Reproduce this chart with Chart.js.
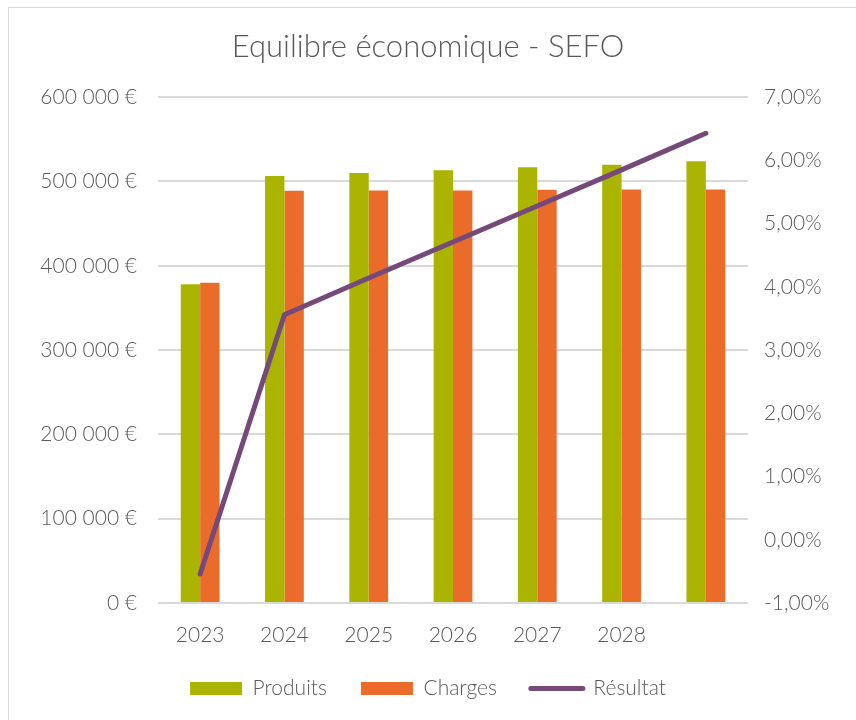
<!DOCTYPE html>
<html>
<head>
<meta charset="utf-8">
<script src="https://cdn.jsdelivr.net/npm/chart.js@4/dist/chart.umd.min.js"></script>
<style>
  body { margin: 0; background: #fff; overflow: hidden; }
  #frame { position: absolute; left: 8px; top: 7px; width: 900px; height: 760px; border: 1px solid #d9d9d9; }
  #wrap { position: absolute; left: 0; top: 0; width: 856px; height: 720px; overflow: hidden; }
</style>
</head>
<body>
<div id="frame"></div>
<div id="wrap"><canvas id="chart" width="856" height="709"></canvas></div>
<script>
// Data
const years = ['2023', '2024', '2025', '2026', '2027', '2028', ''];
const produits = [378000, 506500, 510000, 513300, 517000, 520000, 524000];
const charges = [380000, 489000, 489400, 489400, 490200, 490600, 490600];
const resultat = [-0.54, 3.56, 4.14, 4.71, 5.28, 5.85, 6.43];

const textColor = '#595959';
const fontFamily = 'Lato, "DejaVu Sans", sans-serif';

function euro(v) {
    return String(v).replace(/\B(?=(\d{3})+(?!\d))/g, ' ') + ' €';
}

const ctx = document.getElementById('chart').getContext('2d');
new Chart(ctx, {
    type: 'bar',
    data: {
        labels: years,
        datasets: [{
            label: 'Produits',
            data: produits,
            backgroundColor: '#abb400',
            yAxisID: 'y',
            order: 1,
            categoryPercentage: 0.46,
            barPercentage: 1
        }, {
            label: 'Charges',
            data: charges,
            backgroundColor: '#eb6b2a',
            yAxisID: 'y',
            order: 1,
            categoryPercentage: 0.46,
            barPercentage: 1
        }, {
            type: 'line',
            label: 'Résultat',
            data: resultat,
            borderColor: '#754a7a',
            backgroundColor: '#754a7a',
            borderWidth: 5,
            borderCapStyle: 'round',
            borderJoinStyle: 'round',
            tension: 0,
            pointRadius: 0,
            yAxisID: 'y1',
            order: 0
        }]
    },
    options: {
        responsive: false,
        animation: false,
        layout: { padding: { left: 0, right: 0, top: 0, bottom: 0 } },
        scales: {
            x: {
                grid: { display: false, drawTicks: false },
                border: { display: false },
                ticks: { color: textColor, font: { family: fontFamily, size: 21, weight: 300 }, padding: 20 },
                afterFit: function(scale) { scale.height = 41; }
            },
            y: {
                position: 'left',
                min: 0,
                max: 600000,
                ticks: {
                    stepSize: 100000,
                    color: textColor,
                    font: { family: fontFamily, size: 21, weight: 300 },
                    padding: 21,
                    callback: function(v) { return euro(v); }
                },
                grid: { color: '#d9d9d9', lineWidth: 2, drawTicks: false },
                border: { display: false },
                afterFit: function(scale) { scale.width = 158; }
            },
            y1: {
                position: 'right',
                min: -1,
                max: 7,
                ticks: {
                    stepSize: 1,
                    color: textColor,
                    font: { family: fontFamily, size: 21, weight: 300 },
                    padding: 16,
                    callback: function(v) { return v.toFixed(2).replace('.', ',') + '%'; }
                },
                grid: { display: false, drawTicks: false },
                border: { display: false },
                afterFit: function(scale) { scale.width = 108; }
            }
        },
        plugins: {
            title: {
                display: true,
                text: 'Equilibre économique - SEFO',
                color: textColor,
                font: { family: fontFamily, size: 31, weight: 300 },
                padding: { top: 28, bottom: 32 }
            },
            legend: {
                position: 'bottom',
                labels: {
                    color: textColor,
                    font: { family: fontFamily, size: 21, weight: 300 },
                    boxWidth: 52,
                    boxHeight: 13,
                    usePointStyle: true,
                    pointStyleWidth: 52,
                    padding: 34,
                    sort: function(a, b) { return a.datasetIndex - b.datasetIndex; },
                    generateLabels: function(chart) {
                        const items = Chart.defaults.plugins.legend.labels.generateLabels(chart);
                        items.forEach(function(item) {
                            const ds = chart.data.datasets[item.datasetIndex];
                            if (ds.type === 'line') {
                                item.pointStyle = 'line';
                                item.lineWidth = 5;
                                item.strokeStyle = ds.borderColor;
                                item.lineCap = 'round';
                            } else {
                                item.pointStyle = 'rect';
                                item.lineWidth = 0;
                            }
                        });
                        return items;
                    }
                }
            },
            tooltip: { enabled: false }
        }
    }
});
</script>
</body>
</html>
